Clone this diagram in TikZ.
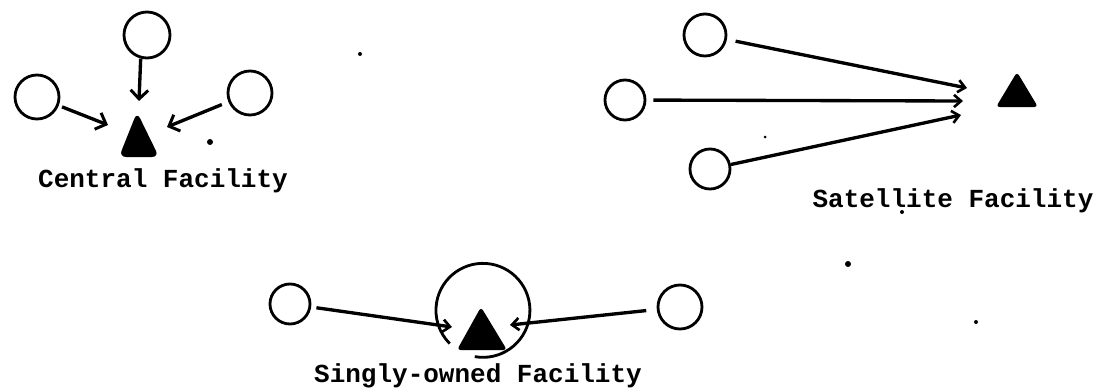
\documentclass[tikz,border=0pt]{standalone}
\usepackage{fontspec}
\setmonofont{Liberation Mono}
\usetikzlibrary{arrows.meta}
\begin{document}
\begin{tikzpicture}[x=0.02cm,y=-0.02cm,
  ring/.style={circle,draw,line width=1.6pt,inner sep=0pt},
  conn/.style={line width=1.9pt},
  bigtip/.style={-{Straight Barb[length=5pt,width=10pt,line width=1.7pt]}},
  smalltip/.style={-{Straight Barb[length=4pt,width=7pt,line width=1.5pt]}},
  label/.style={font=\ttfamily\bfseries\fontsize{14.8}{16}\selectfont,anchor=base,inner sep=0pt},
  speck/.style={fill=black}]
\useasboundingbox (0,0) rectangle (1117,389);

% ---------- Central Facility ----------
\node[ring,minimum size=46*0.02cm] (ct) at (147,35) {};
\node[ring,minimum size=44*0.02cm] (cl) at (37,97) {};
\node[ring,minimum size=44*0.02cm] (cr) at (250,93) {};
\fill[rounded corners=4pt] (137,112) -- (159,157) -- (119,157) -- cycle;
\coordinate (cf) at (137,135);
\coordinate (cta) at (139,101);
\coordinate (cla) at (108,125);
\coordinate (cra) at (167,127);
\draw[conn,bigtip] (ct.255) -- (cta);
\draw[conn,bigtip,shorten <=2pt] (cl) -- (cla);
\draw[conn,bigtip,shorten <=4pt] (cr) -- (cra);
\node[label] (clab) at (163,187) {Central Facility};
\fill[speck] (210,142) circle (3);

% ---------- Satellite Facility ----------
\node[ring,minimum size=42*0.02cm] (st) at (705,35) {};
\node[ring,minimum size=40*0.02cm] (sm) at (625,100) {};
\node[ring,minimum size=40*0.02cm] (sb) at (710,169) {};
\fill[rounded corners=2pt] (1017,72) -- (1038,107) -- (996,107) -- cycle;
\coordinate (sf) at (1017,95);
\coordinate (sta) at (967,88);
\coordinate (sma) at (963,101);
\coordinate (sba) at (961,115);
\draw[conn,smalltip,shorten <=5pt] (st) -- (sta);
\draw[conn,smalltip,shorten <=4pt] (sm) -- (sma);
\draw[conn,smalltip] (sb) -- (sba);
\node[label] (slab) at (953,207) {Satellite Facility};
\fill[speck] (765,137) circle (1.5);
\fill[speck] (902,212) circle (2);
\fill[speck] (360,54) circle (2);
\fill[speck] (848,264) circle (3);
\fill[speck] (976,322) circle (2);

% ---------- Singly-owned Facility ----------
\node[ring,minimum size=40*0.02cm] (sl) at (290,304) {};
\node[ring,minimum size=44*0.02cm] (sr) at (680,307) {};
\node[circle,minimum size=94*0.02cm,inner sep=0pt] (big) at (483,310) {};
\draw[line width=1.6pt,x=1cm,y=1cm] (big.-100) arc[start angle=-100,end angle=225,radius=0.94cm];
\fill[rounded corners=2pt] (481,307) -- (507,350) -- (457,350) -- cycle;
\coordinate (bf) at (481,333);
\coordinate (sla) at (452,327);
\coordinate (sra) at (510,325);
\draw[conn,smalltip,shorten <=3pt] (sl) -- (sla);
\draw[conn,smalltip,shorten <=6pt] (sr) -- (sra);
\node[label] (blab) at (478,382) {Singly-owned Facility};
\end{tikzpicture}
\end{document}
